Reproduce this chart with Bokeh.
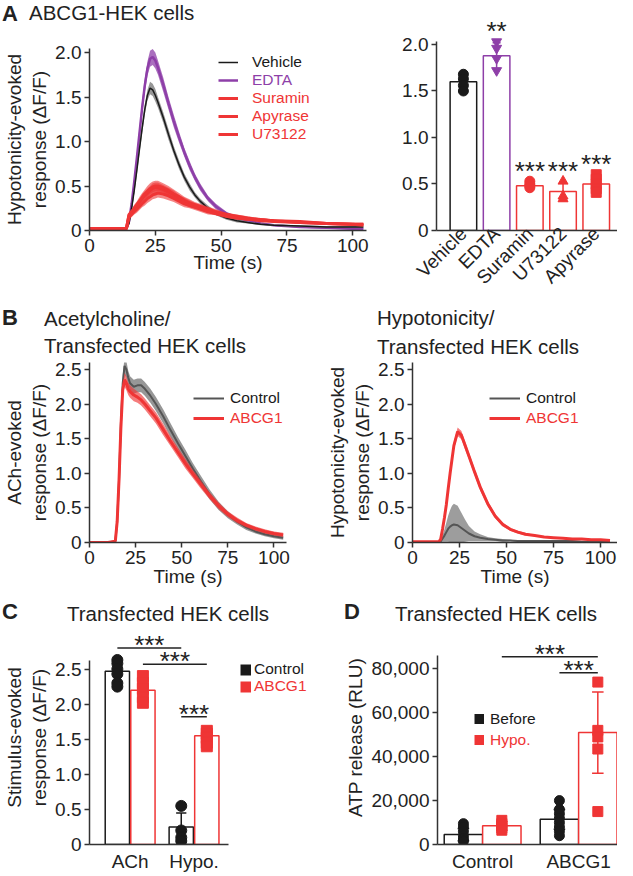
import math
from bokeh.plotting import figure
from bokeh.layouts import column, row
from bokeh.models import (ColumnDataSource, Legend, LegendItem, FixedTicker, NumeralTickFormatter, Div)
from bokeh.core.properties import value
from bokeh.embed import file_html
from bokeh.resources import INLINE

FONT = "Liberation Sans"
BLACK = "#1a1a1a"
DGRAY = "#555555"
GRAY = "#8c8c8c"
PURPLE = "#8e3fa8"
RED = "#ef3535"
AXIS = "#333333"
NAN = float("nan")

# ---------------- Panel A (traces) ----------------
tA = [0, 5, 10, 14, 15, 16, 17, 18, 19, 20, 21, 22, 23, 24, 25, 26, 28, 30, 32, 34,
      36, 38, 40, 42, 45, 48, 52, 56, 60, 65, 70, 80, 90, 100, 104]
veh_mean = [0.02, 0.02, 0.02, 0.02, 0.08, 0.25, 0.45, 0.68, 0.92, 1.15, 1.36, 1.52, 1.6, 1.58, 1.52, 1.44, 1.27, 1.08, 0.9, 0.74,
            0.6, 0.49, 0.4, 0.33, 0.25, 0.19, 0.14, 0.11, 0.09, 0.07, 0.06, 0.05, 0.04, 0.04, 0.04]
veh_sem = [0.01, 0.01, 0.01, 0.01, 0.02, 0.03, 0.04, 0.05, 0.05, 0.06, 0.06, 0.06, 0.07, 0.07, 0.07, 0.06, 0.06, 0.06, 0.05, 0.05,
           0.04, 0.04, 0.03, 0.03, 0.03, 0.02, 0.02, 0.02, 0.01, 0.01, 0.01, 0.01, 0.01, 0.01, 0.01]
edta_mean = [0.02, 0.02, 0.02, 0.02, 0.1, 0.3, 0.55, 0.82, 1.1, 1.38, 1.63, 1.82, 1.93, 1.95, 1.91, 1.83, 1.64, 1.43, 1.23, 1.05,
             0.88, 0.73, 0.6, 0.49, 0.36, 0.27, 0.19, 0.14, 0.11, 0.08, 0.06, 0.04, 0.03, 0.02, 0.02]
edta_sem = [0.01, 0.01, 0.01, 0.01, 0.02, 0.04, 0.05, 0.06, 0.07, 0.08, 0.08, 0.08, 0.09, 0.09, 0.09, 0.08, 0.08, 0.07, 0.07, 0.06,
            0.05, 0.05, 0.04, 0.04, 0.03, 0.03, 0.02, 0.02, 0.01, 0.01, 0.01, 0.01, 0.01, 0.01, 0.01]
sur_mean = [0.02, 0.02, 0.02, 0.02, 0.17, 0.2, 0.24, 0.28, 0.32, 0.36, 0.39, 0.42, 0.45, 0.47, 0.48, 0.48, 0.46, 0.43, 0.4, 0.36,
            0.33, 0.3, 0.28, 0.26, 0.23, 0.2, 0.17, 0.15, 0.13, 0.12, 0.11, 0.09, 0.08, 0.07, 0.07]
sur_sem = [0.01, 0.01, 0.01, 0.01, 0.03, 0.03, 0.04, 0.04, 0.04, 0.05, 0.05, 0.05, 0.05, 0.06, 0.06, 0.06, 0.05, 0.05, 0.05, 0.04,
           0.04, 0.04, 0.03, 0.03, 0.03, 0.03, 0.02, 0.02, 0.02, 0.02, 0.01, 0.01, 0.01, 0.01, 0.01]
apy_mean = [0.02, 0.02, 0.02, 0.02, 0.18, 0.21, 0.25, 0.29, 0.33, 0.37, 0.41, 0.44, 0.47, 0.49, 0.5, 0.5, 0.48, 0.45, 0.41, 0.38,
            0.34, 0.31, 0.29, 0.27, 0.24, 0.21, 0.18, 0.16, 0.14, 0.12, 0.11, 0.1, 0.08, 0.07, 0.07]
apy_sem = [0.01, 0.01, 0.01, 0.01, 0.03, 0.03, 0.04, 0.04, 0.05, 0.05, 0.05, 0.06, 0.06, 0.06, 0.06, 0.06, 0.05, 0.05, 0.05, 0.04,
           0.04, 0.04, 0.03, 0.03, 0.03, 0.03, 0.02, 0.02, 0.02, 0.02, 0.01, 0.01, 0.01, 0.01, 0.01]
u73_mean = [0.02, 0.02, 0.02, 0.02, 0.15, 0.18, 0.21, 0.24, 0.27, 0.3, 0.33, 0.36, 0.38, 0.4, 0.41, 0.42, 0.41, 0.39, 0.36, 0.33,
            0.3, 0.28, 0.26, 0.24, 0.21, 0.19, 0.16, 0.14, 0.13, 0.11, 0.1, 0.09, 0.08, 0.07, 0.06]
u73_sem = [0.01, 0.01, 0.01, 0.01, 0.02, 0.03, 0.03, 0.04, 0.04, 0.04, 0.05, 0.05, 0.05, 0.05, 0.05, 0.05, 0.05, 0.05, 0.04, 0.04,
           0.04, 0.03, 0.03, 0.03, 0.03, 0.02, 0.02, 0.02, 0.02, 0.01, 0.01, 0.01, 0.01, 0.01, 0.01]

# ---------------- Panel A (bars) ----------------
a_cats = ["Vehicle", "EDTA", "Suramin", "U73122", "Apyrase"]
a_means = [1.6, 1.88, 0.48, 0.42, 0.5]
a_errs = [0.08, 0.14, 0.03, 0.1, 0.08]
a_points = [[1.68, 1.63, 1.56, 1.5], [2.03, 1.96, 1.85, 1.72], [0.53, 0.5, 0.48, 0.46],
            [0.53, 0.37, 0.34], [0.6, 0.55, 0.5, 0.45, 0.41]]
a_stars = ["", "**", "***", "***", "***"]
a_colors = [BLACK, PURPLE, RED, RED, RED]
a_markers = ["circle", "inverted_triangle", "circle", "triangle", "square"]

# ---------------- Panel B (traces) ----------------
tB = [0, 5, 10, 14, 15, 16, 17, 18, 19, 20, 21, 22, 24, 26, 28, 30, 33, 36, 40, 44,
      48, 52, 56, 60, 65, 70, 75, 80, 85, 90, 95, 100, 105]
ach_ctrl_mean = [0.0, 0.0, 0.0, 0.02, 0.3, 0.9, 1.7, 2.3, 2.55, 2.5, 2.38, 2.3, 2.25, 2.27, 2.27, 2.22, 2.12, 2.0, 1.82, 1.62,
                 1.43, 1.25, 1.07, 0.9, 0.7, 0.53, 0.4, 0.3, 0.22, 0.16, 0.12, 0.09, 0.07]
ach_ctrl_sem = [0.0, 0.0, 0.0, 0.01, 0.05, 0.1, 0.12, 0.12, 0.12, 0.12, 0.1, 0.1, 0.1, 0.1, 0.1, 0.1, 0.1, 0.1, 0.1, 0.1,
                0.09, 0.09, 0.08, 0.08, 0.07, 0.06, 0.05, 0.04, 0.04, 0.03, 0.03, 0.03, 0.03]
ach_abcg1_mean = [0.0, 0.0, 0.0, 0.02, 0.3, 0.9, 1.65, 2.2, 2.35, 2.3, 2.22, 2.18, 2.13, 2.1, 2.06, 2.0, 1.9, 1.8, 1.63, 1.46,
                  1.3, 1.14, 0.99, 0.85, 0.68, 0.53, 0.41, 0.32, 0.25, 0.2, 0.16, 0.13, 0.11]
ach_abcg1_sem = [0.0, 0.0, 0.0, 0.01, 0.05, 0.08, 0.1, 0.1, 0.1, 0.1, 0.09, 0.09, 0.09, 0.08, 0.08, 0.08, 0.08, 0.08, 0.08, 0.07,
                 0.07, 0.07, 0.06, 0.06, 0.05, 0.05, 0.04, 0.04, 0.03, 0.03, 0.03, 0.03, 0.03]
hyp_ctrl_mean = [0.0, 0.0, 0.0, 0.0, 0.02, 0.06, 0.1, 0.15, 0.2, 0.23, 0.25, 0.26, 0.25, 0.21, 0.17, 0.13, 0.09, 0.07, 0.05, 0.04,
                 0.03, 0.03, 0.02, 0.02, 0.02, 0.02, 0.02, 0.02, 0.02, 0.01, 0.01, 0.01, 0.01]
hyp_ctrl_sem = [0.0, 0.0, 0.0, 0.0, 0.02, 0.05, 0.09, 0.14, 0.19, 0.24, 0.28, 0.3, 0.28, 0.22, 0.16, 0.11, 0.07, 0.05, 0.03, 0.02,
                0.02, 0.01, 0.01, 0.01, 0.01, 0.01, 0.01, 0.01, 0.01, 0.01, 0.01, 0.01, 0.01]
hyp_abcg1_mean = [0.01, 0.01, 0.01, 0.01, 0.05, 0.2, 0.36, 0.55, 0.78, 1.0, 1.2, 1.4, 1.6, 1.55, 1.4, 1.25, 1.02, 0.8, 0.56, 0.38,
                  0.26, 0.19, 0.15, 0.12, 0.1, 0.08, 0.07, 0.06, 0.05, 0.05, 0.04, 0.04, 0.03]
hyp_abcg1_sem = [0.01, 0.01, 0.01, 0.01, 0.02, 0.03, 0.04, 0.05, 0.05, 0.06, 0.06, 0.06, 0.06, 0.06, 0.06, 0.05, 0.05, 0.05, 0.04, 0.03,
                 0.03, 0.02, 0.02, 0.02, 0.01, 0.01, 0.01, 0.01, 0.01, 0.01, 0.01, 0.01, 0.01]

# ---------------- Panel C ----------------
c_groups = ["ACh", "Hypo."]
c_series = ["Control", "ABCG1"]
c_ctrl_means = [2.47, 0.25]
c_ctrl_errs = [0.15, 0.2]
c_abcg1_means = [2.2, 1.55]
c_abcg1_errs = [0.15, 0.09]
c_ctrl_pts = [[2.63, 2.58, 2.5, 2.43, 2.3, 2.25], [0.55, 0.2, 0.1, 0.05]]
c_abcg1_pts = [[2.4, 2.3, 2.22, 2.1, 2.02], [1.62, 1.58, 1.52, 1.45, 1.4]]
c_sig = [((0, 0), (1, 0), 2.8), ((0, 1), (1, 1), 2.57), ((1, 0), (1, 1), 1.82)]

# ---------------- Panel D ----------------
d_groups = ["Control", "ABCG1"]
d_series = ["Before", "Hypo."]
d_before_means = [4500, 11500]
d_before_errs = [2800, 4500]
d_hypo_means = [8500, 51000]
d_hypo_errs = [2000, 18500]
d_before_pts = [[9500, 8000, 6000, 4000, 2500, 1500], [20000, 16000, 14000, 12000, 10000, 8000, 6000, 4000]]
d_hypo_pts = [[11000, 9500, 8500, 7500, 6500], [74000, 52000, 49000, 43500, 15000]]
d_sig = [((0, 1), (1, 1), 85500), ((1, 0), (1, 1), 78300)]


def make_fig(w, h, left, right, top, bottom, xr, yr):
    p = figure(width=w, height=h, x_range=xr, y_range=yr, output_backend="svg", toolbar_location=None,
               min_border_left=left, min_border_right=right, min_border_top=top, min_border_bottom=bottom)
    p.outline_line_color = None
    p.xgrid.visible = False
    p.ygrid.visible = False
    p.background_fill_color = "white"
    p.border_fill_color = "white"
    for ax in (p.xaxis[0], p.yaxis[0]):
        ax.axis_line_color = AXIS
        ax.axis_line_width = 1.5
        ax.major_tick_line_color = AXIS
        ax.major_tick_line_width = 1.5
        ax.major_tick_out = 5
        ax.major_tick_in = 0
        ax.minor_tick_line_color = None
        ax.major_label_text_font = FONT
        ax.major_label_text_font_size = "19px"
        ax.major_label_text_color = "#222222"
        ax.axis_label_text_font = FONT
        ax.axis_label_text_font_size = "19px"
        ax.axis_label_text_font_style = "normal"
        ax.axis_label_text_color = "#222222"
        ax.axis_label_standoff = 2
        ax.major_label_standoff = 3
    return p


def dec_axis(ax, ticks):
    ax.ticker = FixedTicker(ticks=ticks)
    ax.formatter = NumeralTickFormatter(format="0.0")
    ax.major_label_overrides = {0: "0"}


def title_div(w, h, parts):
    spans = []
    for left, top, text, size, bold in parts:
        spans.append('<div style="position:absolute; left:%dpx; top:%dpx; font-size:%spx; font-weight:%s; '
                     'white-space:nowrap; line-height:1.15;">%s</div>' % (left, top, size, "bold" if bold else "normal", text))
    html = ('<div style="position:relative; width:%dpx; height:%dpx; font-family:\'Liberation Sans\'; '
            'color:#222222;">%s</div>' % (w, h, "".join(spans)))
    return Div(text=html, width=w, height=h, margin=0, styles={"overflow": "visible"})


def add_trace(p, t, m, s, line_color, band_color, lw=3.0, band_alpha=0.6):
    lo = [max(0.0, a - b) for a, b in zip(m, s)]
    hi = [a + b for a, b in zip(m, s)]
    src = ColumnDataSource(dict(t=t, m=m, lo=lo, hi=hi))
    p.varea(x="t", y1="lo", y2="hi", source=src, fill_color=band_color, fill_alpha=band_alpha)
    return p.line("t", "m", source=src, line_color=line_color, line_width=lw)


def add_legend(p, items, loc, color, glyph_w, pitch, standoff, size="15.5px"):
    lg = Legend(items=items, location=loc, orientation="vertical",
                background_fill_alpha=0, border_line_color=None,
                label_text_font=FONT, label_text_font_size=size, label_text_color=color,
                glyph_width=glyph_w, glyph_height=pitch, label_height=pitch,
                spacing=0, padding=0, margin=0, label_standoff=standoff)
    p.add_layout(lg)


def add_bar_group(p, xs, means, errs, colors, width, cap):
    src = ColumnDataSource(dict(x=xs, top=means, c=colors,
                                lo=[m - e for m, e in zip(means, errs)],
                                hi=[m + e for m, e in zip(means, errs)],
                                cl=[x - cap for x in xs], cr=[x + cap for x in xs]))
    p.vbar(x="x", top="top", bottom=0, width=width, source=src, fill_color="white",
           line_color="c", line_width=1.5)
    p.segment(x0="x", y0="lo", x1="x", y1="hi", source=src, line_color="c", line_width=1.5)
    p.segment(x0="cl", y0="hi", x1="cr", y1="hi", source=src, line_color="c", line_width=1.5)
    p.segment(x0="cl", y0="lo", x1="cr", y1="lo", source=src, line_color="c", line_width=1.5)


def stars(p, xs, ys, texts, size="26px", yoff=0):
    src = ColumnDataSource(dict(x=xs, y=ys, t=texts))
    p.text(x="x", y="y", text="t", source=src, text_align="center", text_baseline="alphabetic",
           text_font=value(FONT), text_font_size=size, text_color="#222222", y_offset=yoff)


def square_proxy(p, color, size):
    # legend-only proxy: a thick, short line renders as a filled square key
    return p.line(x=[NAN, NAN], y=[NAN, NAN], line_color=color, line_width=size)


# =============== A1: traces ===============
divA = title_div(382, 34, [(2, 1, "A", 22, True), (29, 1, "ABCG1-HEK cells", 20.5, False)])
a1 = make_fig(382, 264, 81, 16, 14, 68, (0, 105.2), (0, 2.045))
r_edta = add_trace(a1, tA, edta_mean, edta_sem, PURPLE, PURPLE, lw=2.5, band_alpha=0.75)
r_veh = add_trace(a1, tA, veh_mean, veh_sem, BLACK, GRAY, lw=1.5, band_alpha=0.9)
r_sur = add_trace(a1, tA, sur_mean, sur_sem, RED, RED, lw=3, band_alpha=0.6)
r_apy = add_trace(a1, tA, apy_mean, apy_sem, RED, RED, lw=3, band_alpha=0.6)
r_u73 = add_trace(a1, tA, u73_mean, u73_sem, RED, RED, lw=3, band_alpha=0.6)
a1.xaxis.ticker = FixedTicker(ticks=[0, 25, 50, 75, 100])
dec_axis(a1.yaxis[0], [0, 0.5, 1.0, 1.5, 2.0])
a1.xaxis.axis_label = "Time (s)"
a1.xaxis.axis_label_standoff = -3
a1.yaxis.axis_label = "Hypotonicity-evoked\nresponse (\u0394F/F)"
add_legend(a1, [LegendItem(label="Vehicle", renderers=[r_veh])], (129, 159), BLACK, 20, 18, 14)
add_legend(a1, [LegendItem(label="EDTA", renderers=[r_edta])], (129, 141), PURPLE, 20, 18, 14)
add_legend(a1, [LegendItem(label="Suramin", renderers=[r_sur]),
                LegendItem(label="Apyrase", renderers=[r_apy]),
                LegendItem(label="U73122", renderers=[r_u73])], (129, 87), RED, 20, 18, 14)

# =============== A2: bars ===============
a2 = make_fig(235, 298, 54, 0, 20, 68, (-0.81, 4.64), (0, 2.258))
a_x = list(range(len(a_cats)))
add_bar_group(a2, a_x, a_means, a_errs, a_colors, 0.8, 0.12)
for i, pts in enumerate(a_points):
    a2.scatter(x=[a_x[i]] * len(pts), y=pts, marker=a_markers[i], size=10,
               fill_color=a_colors[i], line_color=a_colors[i])
stars(a2, a_x, [max(pts) + 0.06 for pts in a_points], a_stars, yoff=-5)
a2.xaxis.ticker = FixedTicker(ticks=a_x)
a2.xaxis.major_label_overrides = {i: c for i, c in enumerate(a_cats)}
a2.xaxis.major_label_orientation = math.pi / 4
a2.xaxis.major_tick_out = 0
a2.xaxis.major_label_standoff = 0
dec_axis(a2.yaxis[0], [0, 0.5, 1.0, 1.5, 2.0])
a2.yaxis.bounds = (0, 2.03)

# =============== B1: ACh traces ===============
divB1 = title_div(317, 58, [(2, 7, "B", 22, True), (44, 9, "Acetylcholine/", 20.5, False),
                            (44, 36, "Transfected HEK cells", 20.5, False)])
b1 = make_fig(317, 234, 81, 31, 6, 48, (0, 106.8), (0, 2.6))
r_bc = add_trace(b1, tB, ach_ctrl_mean, ach_ctrl_sem, DGRAY, GRAY, lw=2, band_alpha=0.9)
r_ba = add_trace(b1, tB, ach_abcg1_mean, ach_abcg1_sem, RED, RED, lw=3, band_alpha=0.65)
b1.xaxis.ticker = FixedTicker(ticks=[0, 25, 50, 75, 100])
dec_axis(b1.yaxis[0], [0, 0.5, 1.0, 1.5, 2.0, 2.5])
b1.xaxis.axis_label = "Time (s)"
b1.xaxis.axis_label_standoff = -1
b1.yaxis.axis_label = "ACh-evoked\nresponse (\u0394F/F)"
add_legend(b1, [LegendItem(label="Control", renderers=[r_bc])], (104, 134), BLACK, 31, 20, 6)
add_legend(b1, [LegendItem(label="ABCG1", renderers=[r_ba])], (104, 114), RED, 31, 20, 6)

# =============== B2: Hypotonicity traces ===============
divB2 = title_div(300, 58, [(60, 8, "Hypotonicity/", 20.5, False),
                            (60, 37, "Transfected HEK cells", 20.5, False)])
b2 = make_fig(300, 234, 95, 0, 6, 48, (0, 109), (0, 2.6))
r_hc = add_trace(b2, tB, hyp_ctrl_mean, hyp_ctrl_sem, DGRAY, GRAY, lw=2, band_alpha=0.85)
r_ha = add_trace(b2, tB, hyp_abcg1_mean, hyp_abcg1_sem, RED, RED, lw=3, band_alpha=0.65)
b2.xaxis.ticker = FixedTicker(ticks=[0, 25, 50, 75, 100])
dec_axis(b2.yaxis[0], [0, 0.5, 1.0, 1.5, 2.0, 2.5])
b2.xaxis.axis_label = "Time (s)"
b2.xaxis.axis_label_standoff = -1
b2.yaxis.axis_label = "Hypotonicity-evoked\nresponse (\u0394F/F)"
add_legend(b2, [LegendItem(label="Control", renderers=[r_hc])], (77, 134), BLACK, 31, 20, 6)
add_legend(b2, [LegendItem(label="ABCG1", renderers=[r_ha])], (77, 114), RED, 31, 20, 6)

# =============== C: bars ===============
divC = title_div(332, 34, [(2, 9, "C", 22, True), (67, 12, "Transfected HEK cells", 20.5, False)])
c = make_fig(332, 250, 81, 0, 6, 27, (-0.636, 3.167), (0, 3.05))
c_off = [-0.2, 0.2]
c_col = [BLACK, RED]
c_means = [c_ctrl_means, c_abcg1_means]
c_errs = [c_ctrl_errs, c_abcg1_errs]
c_pts = [c_ctrl_pts, c_abcg1_pts]
c_mk = ["circle", "square"]
for s in range(2):
    xs = [g + c_off[s] for g in range(len(c_groups))]
    add_bar_group(c, xs, c_means[s], c_errs[s], [c_col[s]] * len(xs), 0.38, 0.08)
for s in range(2):
    for g in range(len(c_groups)):
        pts = c_pts[s][g]
        c.scatter(x=[g + c_off[s]] * len(pts), y=pts, marker=c_mk[s], size=11,
                  fill_color=c_col[s], line_color=c_col[s])
c_sig_src = ColumnDataSource(dict(
    x0=[a[0] + c_off[a[1]] for a, b, h in c_sig], x1=[b[0] + c_off[b[1]] for a, b, h in c_sig],
    y=[h for a, b, h in c_sig]))
c.segment(x0="x0", y0="y", x1="x1", y1="y", source=c_sig_src, line_color="#222222", line_width=1.5)
stars(c, [(a[0] + c_off[a[1]] + b[0] + c_off[b[1]]) / 2 for a, b, h in c_sig],
      [h for a, b, h in c_sig], ["***"] * len(c_sig), yoff=-3)
add_legend(c, [LegendItem(label=c_series[0], renderers=[square_proxy(c, BLACK, 11)])], (151, 166), BLACK, 11, 17, 3)
add_legend(c, [LegendItem(label=c_series[1], renderers=[square_proxy(c, RED, 11)])], (151, 149), RED, 11, 17, 3)
c.xaxis.ticker = FixedTicker(ticks=list(range(len(c_groups))))
c.xaxis.major_label_overrides = {i: g for i, g in enumerate(c_groups)}
c.xaxis.major_tick_out = 0
c.xaxis.major_label_standoff = 6
c.xaxis.bounds = (-0.636, 1.546)
dec_axis(c.yaxis[0], [0, 0.5, 1.0, 1.5, 2.0, 2.5])
c.yaxis.bounds = (0, 2.62)
c.yaxis.axis_label = "Stimulus-evoked\nresponse (\u0394F/F)"

# =============== D: bars ===============
divD = title_div(285, 34, [(12, 9, "D", 22, True), (63, 12, "Transfected HEK cells", 20.5, False)])
d = make_fig(285, 250, 105, 0, 6, 27, (-0.47, 1.405), (0, 97500))
d_off = [-0.2, 0.2]
d_col = [BLACK, RED]
d_means = [d_before_means, d_hypo_means]
d_errs = [d_before_errs, d_hypo_errs]
d_pts = [d_before_pts, d_hypo_pts]
d_mk = ["circle", "square"]
for s in range(2):
    xs = [g + d_off[s] for g in range(len(d_groups))]
    add_bar_group(d, xs, d_means[s], d_errs[s], [d_col[s]] * len(xs), 0.4, 0.06)
for s in range(2):
    for g in range(len(d_groups)):
        pts = d_pts[s][g]
        d.scatter(x=[g + d_off[s]] * len(pts), y=pts, marker=d_mk[s], size=10,
                  fill_color=d_col[s], line_color=d_col[s])
d_sig_src = ColumnDataSource(dict(
    x0=[a[0] + d_off[a[1]] for a, b, h in d_sig], x1=[b[0] + d_off[b[1]] for a, b, h in d_sig],
    y=[h for a, b, h in d_sig]))
d.segment(x0="x0", y0="y", x1="x1", y1="y", source=d_sig_src, line_color="#222222", line_width=1.5)
stars(d, [(a[0] + d_off[a[1]] + b[0] + d_off[b[1]]) / 2 for a, b, h in d_sig],
      [h for a, b, h in d_sig], ["***"] * len(d_sig), yoff=-3)
add_legend(d, [LegendItem(label=d_series[0], renderers=[square_proxy(d, BLACK, 10)])], (37, 115), BLACK, 10, 21, 6)
add_legend(d, [LegendItem(label=d_series[1], renderers=[square_proxy(d, RED, 10)])], (37, 94), RED, 10, 21, 6)
d.xaxis.ticker = FixedTicker(ticks=list(range(len(d_groups))))
d.xaxis.major_label_overrides = {i: g for i, g in enumerate(d_groups)}
d.xaxis.major_tick_out = 0
d.xaxis.major_label_standoff = 6
d.yaxis.ticker = FixedTicker(ticks=[0, 20000, 40000, 60000, 80000])
d.yaxis.formatter = NumeralTickFormatter(format="0,0")
d.yaxis.bounds = (0, 86000)
d.yaxis.axis_label = "ATP release (RLU)"

layout = column(row(column(divA, a1, spacing=0), a2, spacing=0),
                row(column(divB1, b1, spacing=0), column(divB2, b2, spacing=0), spacing=0),
                row(column(divC, c, spacing=0), column(divD, d, spacing=0), spacing=0),
                spacing=0)
open("out.html", "w").write(file_html(layout, INLINE))
